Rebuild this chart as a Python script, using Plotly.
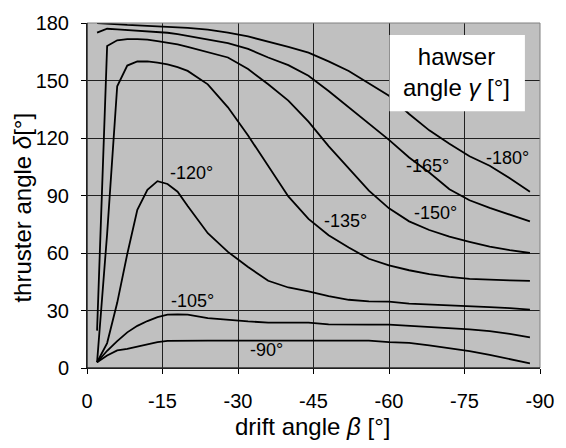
import plotly.graph_objects as go

# drift angle beta [deg]
drift = [-2, -4, -6, -8, -10, -12, -14, -16, -18, -20, -24, -28, -32, -36, -40,
         -44, -48, -52, -56, -60, -64, -68, -72, -76, -80, -84, -88]

# thruster angle delta [deg] for each hawser angle gamma
g_m180 = [180, 179.6, 179.2, 179, 178.8, 178.6, 178.4, 178.1, 177.8, 177.5, 176.5, 175, 173,
          170.3, 167.5, 164.5, 160, 155, 148.5, 142, 132.5, 124, 117, 110.5, 105.5, 99, 92]
g_m165 = [175, 177, 176.7, 176.4, 176, 175.7, 175.4, 174.9, 174.2, 173.3, 171.5, 169.5, 166.5,
          162, 158, 152.5, 144.5, 136, 127.8, 119, 109.8, 102, 93.3, 87.5, 83.5, 80, 76.5]
g_m150 = [19.5, 168, 171, 171.6, 171.6, 171.3, 170.6, 169.8, 168.8, 167.5, 164.8, 162, 156,
          148, 139.5, 128.5, 115.8, 104, 92.5, 83.3, 76.5, 72, 68.5, 65.8, 63.3, 61.5, 60]
g_m135 = [3, 70, 147, 157.8, 159.9, 160, 159.3, 158.4, 157, 155, 148, 136, 121.3,
          105.3, 89.5, 77.8, 69.3, 62.9, 57, 53.5, 51, 49, 47.5, 46.5, 46, 45.7, 45.5]
g_m120 = [3, 13, 34, 59.5, 82.5, 93, 97.5, 96, 92, 84.5, 70.3, 60.6, 52.7,
          45.5, 42, 40, 37.5, 35.6, 34.8, 34.6, 33.6, 33.2, 32.9, 32.5, 31.8, 31.2, 30.5]
g_m105 = [3, 9, 14, 18.6, 22, 24.5, 26.5, 27.8, 28, 27.8, 26, 25, 24.3,
          23.7, 23.7, 23.7, 22.8, 22.6, 22.6, 22.6, 22, 21.3, 20.8, 20.2, 19.2, 17.8, 16]
g_m90 = [3, 6.5, 9.2, 10, 11.2, 12.5, 13.5, 14.2, 14.3, 14.3, 14.3, 14.3, 14.3,
         14.3, 14.3, 14.3, 14.3, 14.3, 14.3, 13.5, 13.1, 11.8, 10.3, 8.8, 6.9, 4.8, 2.4]

series = [g_m180, g_m165, g_m150, g_m135, g_m120, g_m105, g_m90]

# curve labels
label_text = ["-180°", "-165°", "-150°", "-135°", "-120°", "-105°", "-90°"]
label_x = [-83.6, -67.6, -69.3, -51.3, -20.7, -21, -35.7]
label_y = [109.8, 105.5, 80.8, 76.5, 102, 34.8, 9.2]

x_ticks = [0, -15, -30, -45, -60, -75, -90]
y_ticks = [0, 30, 60, 90, 120, 150, 180]

FONT = "Liberation Sans, Arial, sans-serif"

fig = go.Figure()
for s in series:
    fig.add_trace(go.Scatter(x=drift, y=s, mode="lines",
                             line=dict(color="black", width=1.8),
                             showlegend=False, hoverinfo="skip"))

for t, lx, ly in zip(label_text, label_x, label_y):
    fig.add_annotation(x=lx, y=ly, text=t, showarrow=False,
                       font=dict(family=FONT, size=18, color="black"))

# legend-like box
fig.add_shape(type="rect", xref="x", yref="y", x0=-60.1, x1=-87.0, y0=134, y1=173.7,
              fillcolor="white", line=dict(width=0), layer="above")
fig.add_annotation(x=-73.5, y=154.5, text="hawser<br>angle <i>γ</i> [°]", showarrow=False,
                   font=dict(family=FONT, size=24, color="black"), align="center")

# axis titles
fig.add_annotation(xref="paper", yref="paper", x=0.497, y=-0.170, text="drift angle <i>β</i> [°]",
                   showarrow=False, xanchor="center", yanchor="middle",
                   font=dict(family=FONT, size=24, color="black"))
fig.add_annotation(xref="paper", yref="paper", x=-0.142, y=0.464, text="thruster angle <i>δ</i>[°]",
                   showarrow=False, xanchor="center", yanchor="middle", textangle=-90,
                   font=dict(family=FONT, size=24, color="black"))

# gray frame on top/right
fig.add_shape(type="rect", xref="paper", yref="paper", x0=0, x1=1, y0=0, y1=1,
              line=dict(color="#808080", width=1), layer="above")
fig.add_shape(type="line", xref="paper", yref="paper", x0=0, x1=0, y0=0, y1=1,
              line=dict(color="black", width=1), layer="above")
fig.add_shape(type="line", xref="paper", yref="paper", x0=0, x1=1, y0=0, y1=0,
              line=dict(color="black", width=1), layer="above")

fig.update_xaxes(range=[0, -90], tickvals=x_ticks, ticktext=[str(v) for v in x_ticks],
                 showgrid=True, gridcolor="#202020", gridwidth=1, zeroline=False,
                 showline=True, linecolor="black", linewidth=1,
                 ticks="outside", ticklen=5, tickcolor="black", ticklabelstandoff=10,
                 tickfont=dict(family=FONT, size=20, color="black"))
fig.update_yaxes(range=[0, 180], tickvals=y_ticks, ticktext=[str(v) for v in y_ticks],
                 showgrid=True, gridcolor="#202020", gridwidth=1, zeroline=False,
                 showline=True, linecolor="black", linewidth=1,
                 ticks="outside", ticklen=5, tickcolor="black", ticklabelstandoff=8,
                 tickfont=dict(family=FONT, size=20, color="black"))

fig.update_layout(width=566, height=448, margin=dict(l=87, r=18, t=16, b=80),
                  paper_bgcolor="white", plot_bgcolor="#C0C0C0",
                  font=dict(family=FONT, color="black"))

fig.write_html("out.html")
